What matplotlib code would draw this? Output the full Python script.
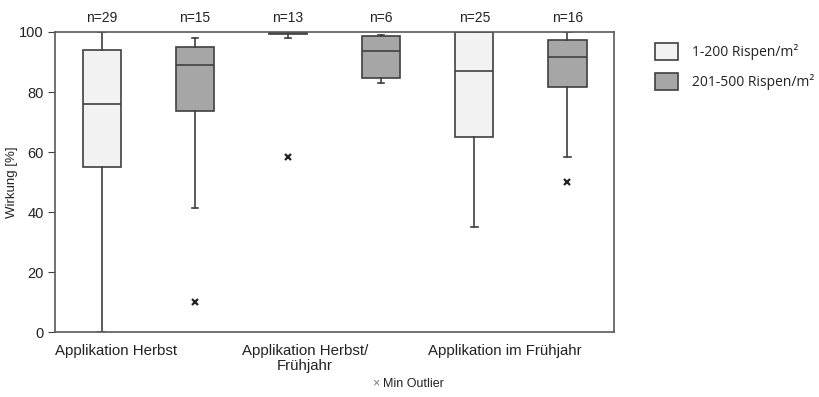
import matplotlib.pyplot as plt
from matplotlib.patches import Rectangle

plt.rcParams['font.family'] = ['Liberation Sans', 'DejaVu Sans']

# box statistics (Wirkung in %)
serien = ["1-200 Rispen/m²", "201-500 Rispen/m²"]
gruppen = ["Applikation Herbst", "Applikation Herbst/\nFrühjahr", "Applikation im Frühjahr"]
n_werte = [29, 15, 13, 6, 25, 16]
q1 = [55, 73.7, 99.3, 84.7, 65, 81.8]
median = [76, 89, 99.7, 93.5, 87, 91.7]
q3 = [94, 95, 100, 98.7, 100, 97.3]
whisk_lo = [0, 41.3, 98, 83, 35, 58.4]
whisk_hi = [100, 98, 100, 99, 100, 100]
ausreisser = [[], [10], [58.3], [], [], [50]]

farben = ["#f2f2f2", "#a6a6a6"]
kante = "#404040"

fig = plt.figure(figsize=(8.2, 3.97), dpi=100)
ax = fig.add_axes([0.0671, 0.1637, 0.6817, 0.7557])

stats = []
for i in range(len(n_werte)):
    stats.append(dict(med=median[i], q1=q1[i], q3=q3[i], whislo=whisk_lo[i],
                      whishi=whisk_hi[i], fliers=ausreisser[i]))

pos = list(range(1, len(stats) + 1))
bp = ax.bxp(stats, positions=pos, widths=0.41, patch_artist=True, showfliers=True,
            boxprops=dict(edgecolor=kante, linewidth=1.2),
            medianprops=dict(color=kante, linewidth=1.2),
            whiskerprops=dict(color=kante, linewidth=1.2),
            capprops=dict(color=kante, linewidth=1.2),
            capwidths=0.07,
            flierprops=dict(marker='x', markersize=4, markeredgewidth=1.6,
                            markeredgecolor='#222222'))
for i, box in enumerate(bp['boxes']):
    box.set_facecolor(farben[i % 2])

ax.set_xlim(0.5, 6.5)
ax.set_ylim(0, 100)
ax.set_yticks([0, 20, 40, 60, 80, 100])
ax.tick_params(axis='y', labelsize=10.5, length=5, color=kante, labelcolor='#222222', pad=3)
ax.set_xticks([])
for s in ax.spines.values():
    s.set_color('#595959')
    s.set_linewidth(1.2)
ax.set_ylabel("Wirkung [%]", fontsize=9.5, labelpad=1, color='#222222')

# n labels above the boxes
for p, n in zip(pos, n_werte):
    ax.text(p, 104.5, f"n={n}", ha='center', va='center', fontsize=10, color='#222222')

# group labels below the axis
for xg, txt in zip([1.15, 3.18, 5.33], gruppen):
    ax.text(xg, -4, txt, ha='center', va='top', fontsize=10.8, color='#222222',
            linespacing=1.05)

# outlier note
fig.text(0.4585, 0.018, "×", ha='center', va='bottom', fontsize=9, color='#777777')
fig.text(0.467, 0.018, "Min Outlier", ha='left', va='bottom', fontsize=9, color='#222222')

# legend on the right
for j, (lab, col) in enumerate(zip(serien, farben)):
    y0 = 1 - (60 + 30 * j) / 397
    fig.patches.append(Rectangle((655 / 820, y0), 23 / 820, 17 / 397, transform=fig.transFigure,
                                 facecolor=col, edgecolor=kante, linewidth=1.2))
    fig.text(692 / 820, y0 + 8.5 / 397, lab, ha='left', va='center', fontsize=10,
             family=['Open Sans', 'DejaVu Sans'], color='#222222')

fig.savefig("out.png", dpi=100)
